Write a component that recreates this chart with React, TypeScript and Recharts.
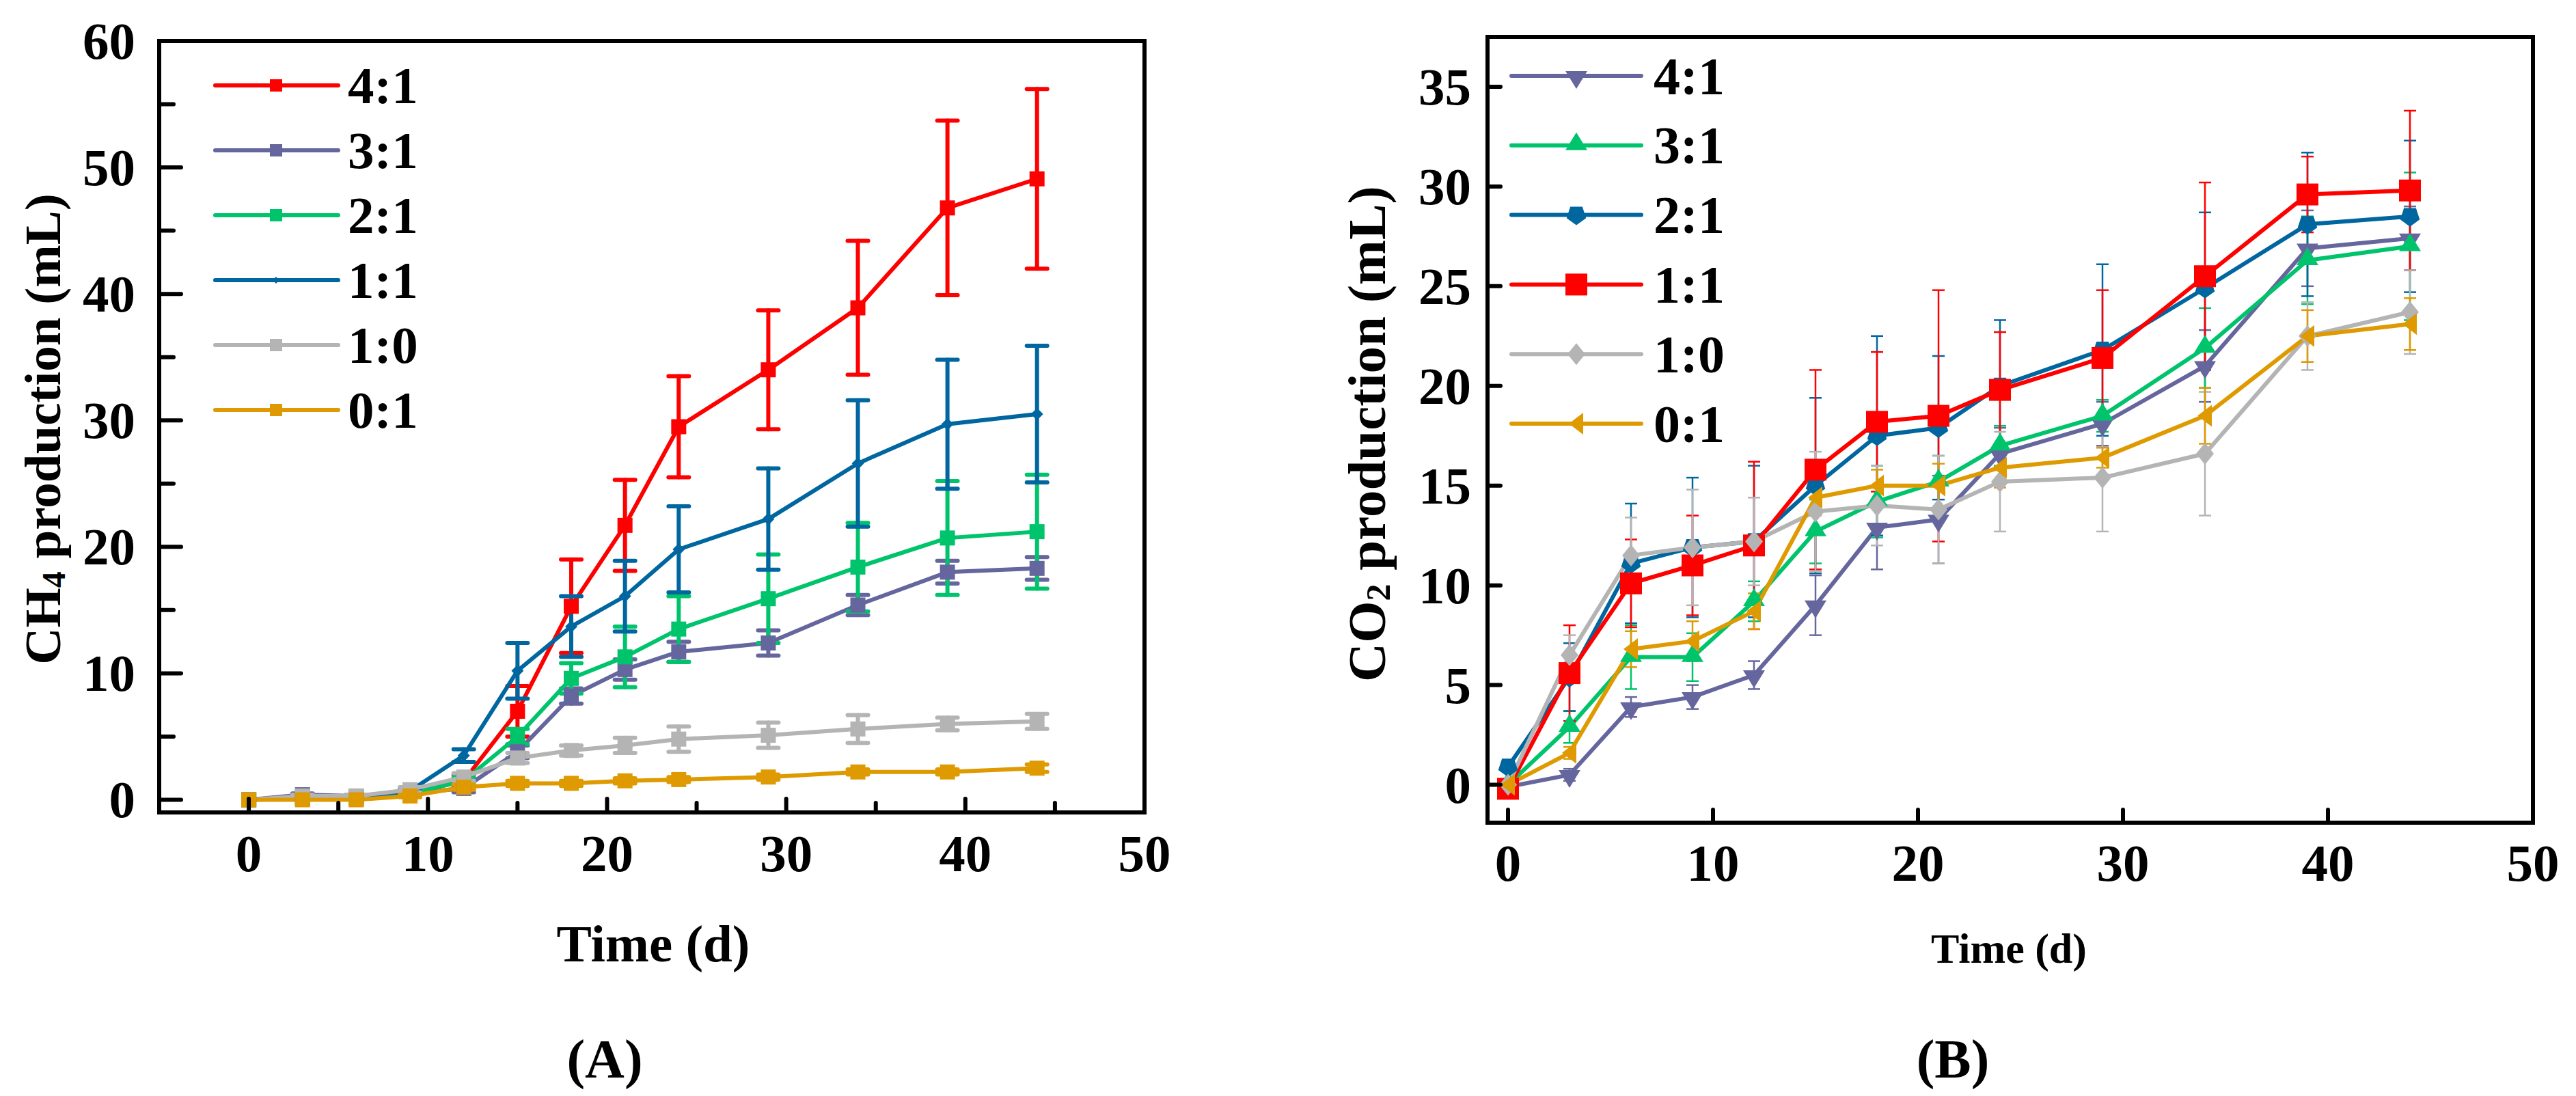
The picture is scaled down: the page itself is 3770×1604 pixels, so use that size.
import React from 'react';
import { LineChart, Line, XAxis, YAxis, ErrorBar, ReferenceArea, Legend } from 'recharts';

// ---------- shared ----------
const days = [0, 3, 6, 9, 12, 15, 18, 21, 24, 29, 34, 39, 44];

// ---------- (A) CH4 production ----------
const ch4Labels = ['4:1', '3:1', '2:1', '1:1', '1:0', '0:1'];
const ch4Colors = ['#FF0000', '#66669E', '#00C46C', '#0066A0', '#B4B4B4', '#DE9A00'];
const ch4_41 = [0, 0.1, 0.1, 0.5, 1.5, 7.0, 15.3, 21.7, 29.5, 34.0, 38.9, 46.8, 49.1];
const ch4_41_err = [0, 0, 0, 0.1, 0.5, 2.0, 3.7, 3.6, 4.0, 4.7, 5.3, 6.9, 7.1];
const ch4_31 = [0, 0.4, 0.3, 0.5, 0.9, 3.8, 8.2, 10.3, 11.7, 12.4, 15.4, 18.0, 18.3];
const ch4_31_err = [0, 0.1, 0.1, 0.1, 0.3, 0.5, 0.6, 0.8, 0.8, 1.0, 0.8, 0.9, 0.9];
const ch4_21 = [0, 0.2, 0.2, 0.5, 1.5, 5.0, 9.6, 11.3, 13.5, 15.9, 18.4, 20.7, 21.2];
const ch4_21_err = [0, 0.1, 0.1, 0.1, 0.3, 0.6, 1.2, 2.4, 2.6, 3.5, 3.5, 4.5, 4.5];
const ch4_11 = [0, 0.2, 0.2, 0.7, 3.5, 10.2, 13.7, 16.1, 19.8, 22.2, 26.6, 29.7, 30.5];
const ch4_11_err = [0, 0.1, 0.1, 0.2, 0.5, 2.2, 2.4, 2.8, 3.4, 4.0, 5.0, 5.1, 5.4];
const ch4_10 = [0, 0.3, 0.3, 0.8, 1.8, 3.3, 3.9, 4.3, 4.8, 5.1, 5.6, 6.0, 6.2];
const ch4_10_err = [0, 0.1, 0.1, 0.2, 0.3, 0.4, 0.4, 0.6, 1.0, 1.0, 1.1, 0.5, 0.6];
const ch4_01 = [0, 0, 0, 0.3, 1.0, 1.3, 1.3, 1.5, 1.6, 1.8, 2.2, 2.2, 2.5];
const ch4_01_err = [0, 0, 0, 0.1, 0.2, 0.2, 0.2, 0.2, 0.2, 0.2, 0.2, 0.2, 0.3];
const ch4XTicks = [0, 5, 10, 15, 20, 25, 30, 35, 40, 45, 50];
const ch4YTicks = [0, 5, 10, 15, 20, 25, 30, 35, 40, 45, 50, 55, 60];

// ---------- (B) CO2 production ----------
const co2Labels = ['4:1', '3:1', '2:1', '1:1', '1:0', '0:1'];
const co2Colors = ['#66669E', '#00C46C', '#0066A0', '#FF0000', '#B4B4B4', '#DE9A00'];
const co2_41 = [-0.1, 0.5, 3.9, 4.4, 5.5, 9.0, 12.9, 13.3, 16.6, 18.1, 21.0, 26.9, 27.4];
const co2_41_err = [0, 0.3, 0.5, 0.6, 0.7, 1.5, 2.1, 2.2, 1.3, 1.1, 1.8, 1.9, 1.6];
const co2_31 = [0, 2.9, 6.4, 6.4, 9.2, 12.7, 14.2, 15.2, 17.0, 18.5, 21.9, 26.3, 27.0];
const co2_31_err = [0, 0.8, 1.6, 1.2, 1.0, 1.6, 1.8, 1.3, 1.0, 0.8, 2.0, 2.2, 3.7];
const co2_21 = [0.9, 5.4, 11.1, 11.9, 12.2, 15.0, 17.5, 17.9, 20.0, 21.8, 24.9, 28.1, 28.5];
const co2_21_err = [0.1, 1.7, 3.0, 3.5, 3.8, 4.4, 5.0, 3.6, 3.3, 4.3, 3.8, 3.6, 3.8];
const co2_11 = [-0.2, 5.6, 10.1, 11.0, 12.0, 15.8, 18.2, 18.5, 19.8, 21.4, 25.5, 29.6, 29.8];
const co2_11_err = [0.1, 2.4, 2.2, 2.5, 4.2, 5.0, 3.5, 6.3, 2.9, 3.4, 4.7, 1.9, 4.0];
const co2_10 = [0, 6.5, 11.5, 11.9, 12.2, 13.7, 14.0, 13.8, 15.2, 15.4, 16.6, 22.5, 23.7];
const co2_10_err = [0.1, 1.0, 1.9, 2.9, 2.2, 3.0, 2.0, 2.7, 2.5, 2.7, 3.1, 1.7, 2.1];
const co2_01 = [0, 1.6, 6.8, 7.2, 8.7, 14.4, 15.0, 15.0, 15.9, 16.4, 18.5, 22.5, 23.1];
const co2_01_err = [0.1, 0.3, 0.9, 1.0, 0.9, 0.9, 0.8, 1.1, 1.0, 0.5, 1.4, 1.3, 1.3];
const co2XTicks = [0, 10, 20, 30, 40, 50];
const co2YTicks = [0, 5, 10, 15, 20, 25, 30, 35];

// ---------- build tables ----------
const ch4Values = [ch4_41, ch4_31, ch4_21, ch4_11, ch4_10, ch4_01];
const ch4Errs = [ch4_41_err, ch4_31_err, ch4_21_err, ch4_11_err, ch4_10_err, ch4_01_err];
const ch4Markers = ['square', 'square', 'square', 'diamondSmall', 'square', 'square'];
const co2Values = [co2_41, co2_31, co2_21, co2_11, co2_10, co2_01];
const co2Errs = [co2_41_err, co2_31_err, co2_21_err, co2_11_err, co2_10_err, co2_01_err];
const co2Markers = ['triDown', 'triUp', 'pentagon', 'bigSquare', 'diamond', 'triLeft'];

const buildData = (vals: number[][], errs: number[][]) =>
  days.map((t, i) => {
    const row: any = { t };
    vals.forEach((v, s) => {
      row['s' + s] = v[i];
      row['e' + s] = errs[s][i];
    });
    return row;
  });

const dataA = buildData(ch4Values, ch4Errs);
const dataB = buildData(co2Values, co2Errs);

const FONT = '"Liberation Serif", "Times New Roman", Times, serif';

// ---------- markers ----------
function markerShape(shape: string, cx: number, cy: number, color: string, key?: any) {
  switch (shape) {
    case 'square':
      return <rect key={key} x={cx - 11} y={cy - 11} width={22} height={22} fill={color} />;
    case 'legendSquare':
      return <rect key={key} x={cx - 9} y={cy - 9} width={18} height={18} fill={color} />;
    case 'diamondSmall':
      return <polygon key={key} points={`${cx},${cy - 9} ${cx + 9},${cy} ${cx},${cy + 9} ${cx - 9},${cy}`} fill={color} />;
    case 'legendDiamond':
      return <polygon key={key} points={`${cx},${cy - 5} ${cx + 5},${cy} ${cx},${cy + 5} ${cx - 5},${cy}`} fill={color} />;
    case 'bigSquare':
      return <rect key={key} x={cx - 16} y={cy - 16} width={32} height={32} fill={color} />;
    case 'triDown':
      return <polygon key={key} points={`${cx - 16},${cy - 7} ${cx + 16},${cy - 7} ${cx},${cy + 19}`} fill={color} />;
    case 'triUp':
      return <polygon key={key} points={`${cx - 16},${cy + 7} ${cx + 16},${cy + 7} ${cx},${cy - 19}`} fill={color} />;
    case 'triLeft':
      return <polygon key={key} points={`${cx + 10},${cy - 16} ${cx + 10},${cy + 16} ${cx - 11},${cy}`} fill={color} />;
    case 'diamond':
      return <polygon key={key} points={`${cx},${cy - 16} ${cx + 13},${cy} ${cx},${cy + 16} ${cx - 13},${cy}`} fill={color} />;
    case 'pentagon': {
      const pts: string[] = [];
      for (let k = 0; k < 5; k++) {
        const a = Math.PI / 2 + (k * 2 * Math.PI) / 5;
        pts.push(`${cx + 15 * Math.cos(a)},${cy + 15 * Math.sin(a)}`);
      }
      return <polygon key={key} points={pts.join(' ')} fill={color} />;
    }
    default:
      return <circle key={key} cx={cx} cy={cy} r={8} fill={color} />;
  }
}

const makeDot = (shape: string, color: string) => (props: any) => {
  const { cx, cy, index } = props;
  if (cx == null || cy == null || isNaN(cx) || isNaN(cy)) return <g key={`d-${index}`} />;
  return markerShape(shape, cx, cy, color, `d-${index}`);
};

// ---------- ticks ----------
const makeYTick = (majorEvery: number, majorLen: number, minorLen: number, gap: number, fs: number) => (props: any) => {
  const { x, y, payload, index } = props;
  const v = payload.value;
  const major = Math.abs(v % majorEvery) < 1e-9;
  return (
    <g key={`yt-${index}`}>
      <line x1={x} x2={x + (major ? majorLen : minorLen)} y1={y} y2={y} stroke="#000" strokeWidth={6} strokeLinecap="round" />
      {major && (
        <text x={x - gap} y={y} textAnchor="end" dominantBaseline="central" fontFamily={FONT} fontWeight="bold" fontSize={fs} fill="#000">
          {v}
        </text>
      )}
    </g>
  );
};

const makeXTick = (majorEvery: number, majorLen: number, minorLen: number, gap: number, fs: number) => (props: any) => {
  const { x, y, payload, index } = props;
  const v = payload.value;
  const major = Math.abs(v % majorEvery) < 1e-9;
  return (
    <g key={`xt-${index}`}>
      <line x1={x} x2={x} y1={y} y2={y - (major ? majorLen : minorLen)} stroke="#000" strokeWidth={6} strokeLinecap="round" />
      {major && (
        <text x={x} y={y + gap} textAnchor="middle" dominantBaseline="central" fontFamily={FONT} fontWeight="bold" fontSize={fs} fill="#000">
          {v}
        </text>
      )}
    </g>
  );
};

// ---------- legends ----------
const makeLegend = (labels: string[], colors: string[], markers: string[], opts: any) => () => (
  <svg width={opts.w} height={opts.h} style={{ display: 'block', overflow: 'visible' }}>
    {labels.map((lab, i) => {
      const y = opts.y0 + i * opts.dy;
      return (
        <g key={lab + i}>
          <line x1={opts.lx1} x2={opts.lx2} y1={y} y2={y} stroke={colors[i]} strokeWidth={6} strokeLinecap="round" />
          {markerShape(markers[i], opts.mx, y, colors[i])}
          <text x={opts.tx} y={y} dominantBaseline="central" fontFamily={FONT} fontWeight="bold" fontSize={opts.fs} fill="#000">
            {lab}
          </text>
        </g>
      );
    })}
  </svg>
);

const legendA = makeLegend(ch4Labels, ch4Colors, ['legendSquare', 'legendSquare', 'legendSquare', 'legendDiamond', 'legendSquare', 'legendSquare'], {
  w: 320, h: 620, y0: 55, dy: 95, lx1: 15, lx2: 195, mx: 104, tx: 209, fs: 77,
});
const legendB = makeLegend(co2Labels, co2Colors, co2Markers, {
  w: 340, h: 640, y0: 61, dy: 101.8, lx1: 12, lx2: 202, mx: 107, tx: 220, fs: 78,
});

export default function App() {
  return (
    <div style={{ position: 'absolute', left: 0, top: 0, width: 3770, height: 1604, background: '#fff', fontFamily: FONT }}>
      {/* Chart A */}
      <div style={{ position: 'absolute', left: 0, top: 0 }}>
        <LineChart width={1880} height={1604} data={dataA} margin={{ top: 60, right: 205, bottom: 355, left: 173 }}>
          <XAxis
            dataKey="t"
            type="number"
            domain={[-5, 50]}
            ticks={ch4XTicks}
            interval={0}
            allowDataOverflow
            height={60}
            axisLine={false}
            tickLine={false}
            tickSize={0}
            tickMargin={0}
            tick={makeXTick(10, 20, 14, 60, 77)}
          />
          <YAxis
            type="number"
            domain={[-1, 60]}
            ticks={ch4YTicks}
            interval={0}
            allowDataOverflow
            width={60}
            axisLine={false}
            tickLine={false}
            tickSize={0}
            tickMargin={0}
            tick={makeYTick(10, 32, 21, 35, 77)}
          />
          <ReferenceArea x1={-5} x2={50} y1={-1} y2={60} fill="none" stroke="#000" strokeWidth={6} ifOverflow="visible" />
          {ch4Labels.map((lab, s) => (
            <Line
              key={lab}
              type="linear"
              dataKey={'s' + s}
              name={lab}
              stroke={ch4Colors[s]}
              strokeWidth={6}
              strokeLinejoin="round"
              dot={makeDot(ch4Markers[s], ch4Colors[s])}
              activeDot={false}
              isAnimationActive={false}
            >
              <ErrorBar
                dataKey={'e' + s}
                direction="y"
                width={15}
                strokeWidth={6}
                strokeLinecap="round"
                stroke={ch4Colors[s]}
                isAnimationActive={false}
              />
            </Line>
          ))}
          <Legend
            layout="vertical"
            align="center"
            verticalAlign="middle"
            wrapperStyle={{ position: 'absolute', left: 300, top: 70, width: 320, height: 620 }}
            content={legendA}
          />
        </LineChart>
      </div>

      {/* Chart B */}
      <div style={{ position: 'absolute', left: 1880, top: 0 }}>
        <LineChart width={1890} height={1604} data={dataB} margin={{ top: 54, right: 63, bottom: 340, left: 237 }}>
          <XAxis
            dataKey="t"
            type="number"
            domain={[-1, 50]}
            ticks={co2XTicks}
            interval={0}
            allowDataOverflow
            height={60}
            axisLine={false}
            tickLine={false}
            tickSize={0}
            tickMargin={0}
            tick={makeXTick(10, 19, 19, 59, 77)}
          />
          <YAxis
            type="number"
            domain={[-1.9, 37.5]}
            ticks={co2YTicks}
            interval={0}
            allowDataOverflow
            width={60}
            axisLine={false}
            tickLine={false}
            tickSize={0}
            tickMargin={0}
            tick={makeYTick(5, 19, 19, 24, 77)}
          />
          <ReferenceArea x1={-1} x2={50} y1={-1.9} y2={37.5} fill="none" stroke="#000" strokeWidth={6} ifOverflow="visible" />
          {co2Labels.map((lab, s) => (
            <Line
              key={lab}
              type="linear"
              dataKey={'s' + s}
              name={lab}
              stroke={co2Colors[s]}
              strokeWidth={6}
              strokeLinejoin="round"
              dot={makeDot(co2Markers[s], co2Colors[s])}
              activeDot={false}
              isAnimationActive={false}
            >
              <ErrorBar dataKey={'e' + s} direction="y" width={9} strokeWidth={2.5} stroke={co2Colors[s]} isAnimationActive={false} />
            </Line>
          ))}
          <Legend
            layout="vertical"
            align="center"
            verticalAlign="middle"
            wrapperStyle={{ position: 'absolute', left: 320, top: 50, width: 340, height: 640 }}
            content={legendB}
          />
        </LineChart>
      </div>

      {/* Axis titles and panel labels */}
      <svg width={3770} height={1604} style={{ position: 'absolute', left: 0, top: 0, pointerEvents: 'none' }}>
        <text transform="translate(62,628) rotate(-90)" textAnchor="middle" dominantBaseline="central" fontFamily={FONT} fontWeight="bold" fontSize={75} fill="#000">
          CH<tspan fontSize={48} dy={16}>4</tspan>
          <tspan dy={-16}> production (mL)</tspan>
        </text>
        <text x={956} y={1381} textAnchor="middle" dominantBaseline="central" fontFamily={FONT} fontWeight="bold" fontSize={77} fill="#000">
          Time (d)
        </text>
        <text x={885} y={1550} textAnchor="middle" dominantBaseline="central" fontFamily={FONT} fontWeight="bold" fontSize={80} fill="#000">
          (A)
        </text>
        <text transform="translate(2000,635) rotate(-90)" textAnchor="middle" dominantBaseline="central" fontFamily={FONT} fontWeight="bold" fontSize={79} fill="#000">
          CO<tspan fontSize={50} dy={17}>2</tspan>
          <tspan dy={-17}> production (mL)</tspan>
        </text>
        <text x={2940} y={1388} textAnchor="middle" dominantBaseline="central" fontFamily={FONT} fontWeight="bold" fontSize={62} fill="#000">
          Time (d)
        </text>
        <text x={2858} y={1550} textAnchor="middle" dominantBaseline="central" fontFamily={FONT} fontWeight="bold" fontSize={80} fill="#000">
          (B)
        </text>
      </svg>
    </div>
  );
}
